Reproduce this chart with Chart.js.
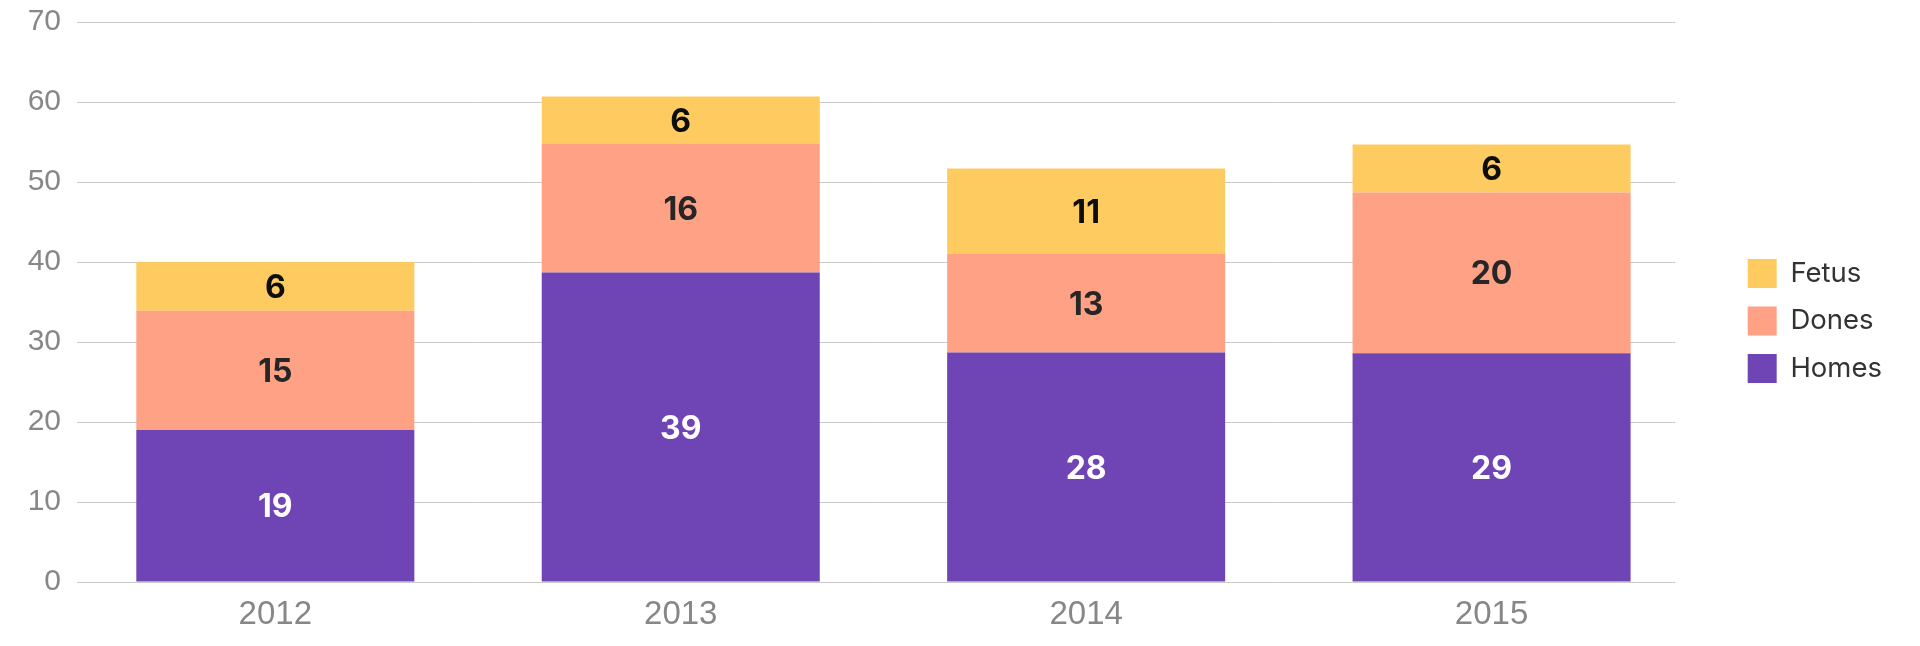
<!DOCTYPE html>
<html>
<head>
<meta charset="utf-8">
<script src="https://cdn.jsdelivr.net/npm/chart.js@4/dist/chart.umd.min.js"></script>
<style>
  html, body { margin: 0; padding: 0; background: #ffffff; overflow: hidden; }
  #wrap { width: 1920px; height: 646px; position: relative; }
</style>
</head>
<body>
<div id="wrap"><canvas id="c"></canvas></div>
<script>
// ---- data ----
const years = ['2012', '2013', '2014', '2015'];
const homesValues = [19, 38.7, 28.7, 28.6];
const donesValues = [14.9, 16.1, 12.3, 20.1];
const fetusValues = [6.1, 5.9, 10.7, 6.0];
const homesLabels = ['19', '39', '28', '29'];
const donesLabels = ['15', '16', '13', '20'];
const fetusLabels = ['6', '6', '11', '6'];
const yMin = 0, yMax = 70, yStep = 10;

Chart.defaults.font.family = 'Inter, "Liberation Sans", sans-serif';

const toPoints = (vals) => vals.map((v, i) => ({ x: i, y: v }));

const valueLabels = {
  id: 'valueLabels',
  afterDatasetsDraw(chart) {
    const ctx = chart.ctx;
    const size = 32;
    chart.data.datasets.forEach((ds, di) => {
      const meta = chart.getDatasetMeta(di);
      meta.data.forEach((bar, i) => {
        const p = bar.getProps(['x', 'y', 'base'], true);
        const cy = (p.y + p.base) / 2;
        ctx.save();
        ctx.font = '700 ' + size + 'px Inter, "Liberation Sans", sans-serif';
        ctx.fillStyle = ds.labelColor;
        ctx.textAlign = 'center';
        ctx.textBaseline = 'alphabetic';
        ctx.fillText(ds.valueLabels[i], p.x, cy + size * 0.727 / 2);
        ctx.restore();
      });
    });
  }
};

new Chart(document.getElementById('c'), {
  type: 'bar',
  data: {
    datasets: [
      { label: 'Homes', data: toPoints(homesValues), backgroundColor: '#6F45B5', valueLabels: homesLabels, labelColor: '#ffffff' },
      { label: 'Dones', data: toPoints(donesValues), backgroundColor: '#FFA184', valueLabels: donesLabels, labelColor: '#262626' },
      { label: 'Fetus', data: toPoints(fetusValues), backgroundColor: '#FECB61', valueLabels: fetusLabels, labelColor: '#0d0d0d' }
    ]
  },
  options: {
    responsive: true,
    maintainAspectRatio: false,
    animation: false,
    layout: { padding: { left: 0, top: 22, right: 28, bottom: 0 } },
    datasets: { bar: { categoryPercentage: 1, barPercentage: 0.6858, borderWidth: 0 } },
    scales: {
      x: {
        type: 'linear',
        stacked: true,
        offset: false,
        min: -0.4892,
        max: 3.4529,
        afterFit: (s) => { s.height = 64; },
        grid: { display: false, drawTicks: false },
        border: { display: false },
        ticks: {
          stepSize: 1,
          includeBounds: false,
          autoSkip: false,
          maxRotation: 0,
          padding: 13,
          color: '#878787',
          font: { size: 33, family: '"Liberation Sans", Arial, sans-serif' },
          callback: (v) => (Number.isInteger(v) && years[v] !== undefined) ? years[v] : null
        }
      },
      y: {
        stacked: true,
        min: yMin,
        max: yMax,
        afterFit: (s) => { s.width = 77; s.paddingTop = 0; s.paddingBottom = 0; },
        grid: { color: '#c9c9c9', lineWidth: 1, drawTicks: false },
        border: { display: false },
        ticks: {
          stepSize: yStep,
          padding: 16,
          color: '#878787',
          font: { size: 30, family: '"Liberation Sans", Arial, sans-serif' }
        }
      },
      yRight: {
        type: 'linear',
        position: 'right',
        display: true,
        afterFit: (s) => { s.width = 54; s.paddingTop = 0; s.paddingBottom = 0; },
        grid: { display: false, drawTicks: false },
        border: { display: false },
        ticks: { display: false }
      }
    },
    plugins: {
      tooltip: { enabled: false },
      legend: {
        position: 'right',
        align: 'center',
        fullSize: false,
        reverse: true,
        title: { display: true, text: '', font: { size: 10 }, padding: { top: 13, bottom: 13 } },
        labels: {
          boxWidth: 29,
          boxHeight: 29,
          padding: 18.5,
          color: '#333333',
          font: { size: 27.5 }
        }
      }
    }
  },
  plugins: [valueLabels]
});
</script>
</body>
</html>
